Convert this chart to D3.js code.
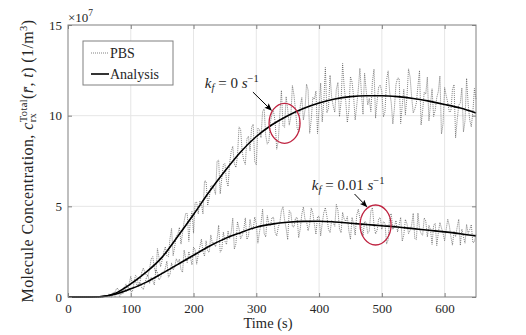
<!DOCTYPE html>
<html>
<head>
<meta charset="utf-8">
<script src="https://d3js.org/d3.v7.min.js"></script>
<style>
body { margin: 0; background: #fff; }
text { font-family: "Liberation Serif", "DejaVu Serif", serif; fill: #262626; }
</style>
</head>
<body>
<svg id="plot" width="526" height="335"></svg>
<script>
// concentrations in units of 1e7 (1/m^3)
const timeAnalysis = [0,25,50,75,100,125,150,175,200,225,250,275,300,325,350,375,400,425,450,475,500,525,550,575,600,625,650];
const analysisKf0 = [0,0,0.01,0.2,0.72,1.38,2.2,3.35,4.55,5.8,6.95,8.0,8.85,9.5,10.0,10.4,10.7,10.92,11.05,11.1,11.1,11.05,10.95,10.8,10.62,10.42,10.15];
const analysisKf001 = [0,0,0.01,0.15,0.45,0.82,1.3,1.8,2.3,2.8,3.22,3.55,3.85,4.02,4.12,4.17,4.18,4.14,4.07,4.0,3.93,3.86,3.77,3.68,3.59,3.49,3.37];

const timePBS = [0,2.5,5,7.5,10,12.5,15,17.5,20,22.5,25,27.5,30,32.5,35,37.5,40,42.5,45,47.5,50,
  52.5,55,57.5,60,62.5,65,67.5,70,72.5,75,77.5,80,82.5,85,87.5,90,92.5,95,97.5,100,
  102.5,105,107.5,110,112.5,115,117.5,120,122.5,125,127.5,130,132.5,135,137.5,140,142.5,145,147.5,150,
  152.5,155,157.5,160,162.5,165,167.5,170,172.5,175,177.5,180,182.5,185,187.5,190,192.5,195,197.5,200,
  202.5,205,207.5,210,212.5,215,217.5,220,222.5,225,227.5,230,232.5,235,237.5,240,242.5,245,247.5,250,
  252.5,255,257.5,260,262.5,265,267.5,270,272.5,275,277.5,280,282.5,285,287.5,290,292.5,295,297.5,300,
  302.5,305,307.5,310,312.5,315,317.5,320,322.5,325,327.5,330,332.5,335,337.5,340,342.5,345,347.5,350,
  352.5,355,357.5,360,362.5,365,367.5,370,372.5,375,377.5,380,382.5,385,387.5,390,392.5,395,397.5,400,
  402.5,405,407.5,410,412.5,415,417.5,420,422.5,425,427.5,430,432.5,435,437.5,440,442.5,445,447.5,450,
  452.5,455,457.5,460,462.5,465,467.5,470,472.5,475,477.5,480,482.5,485,487.5,490,492.5,495,497.5,500,
  502.5,505,507.5,510,512.5,515,517.5,520,522.5,525,527.5,530,532.5,535,537.5,540,542.5,545,547.5,550,
  552.5,555,557.5,560,562.5,565,567.5,570,572.5,575,577.5,580,582.5,585,587.5,590,592.5,595,597.5,600,
  602.5,605,607.5,610,612.5,615,617.5,620,622.5,625,627.5,630,632.5,635,637.5,640,642.5,645,647.5,650];
const pbsKf0 = [0,0,0,0,0,0,0,0,0,0,0,0,0,0,0,0,0,0,0,0,0,
  0.01,0.04,0.1,0.04,0.08,0.17,0.02,0,0.23,0.27,0.48,0.45,0.28,0.28,0.18,0.52,0.72,0.36,0.74,1.14,
  0.75,0.79,1.19,1.11,0.58,0.88,1.37,1.6,1.34,1.2,1.19,1.54,2.1,2.23,1.62,1.3,2.67,2.16,1.67,2.04,
  2.48,2.77,2.27,2.23,3.22,3.78,2.28,2.77,3.35,3.47,3.84,2.92,3.54,4.17,4.61,4.6,3.07,4.26,4.71,3.52,
  5.2,5.23,4.58,5.3,5.18,4.59,6.4,6.38,5.05,5.48,6.13,6.14,5.98,5.66,7.49,7.55,5.69,6.55,7.3,7.36,
  6.42,6.1,7.38,8.03,8.31,7.34,7.14,7.79,9.38,9.24,8.02,7.54,7.31,8.72,8.87,8.06,9.36,9.53,7.47,7.29,
  9.31,9.24,8.78,10.23,10.38,8.9,8.43,8.57,9.64,10.11,10.23,9.67,8.15,8.6,10.1,11.39,9.44,9.35,11.05,10.35,
  9.48,9.94,11.66,11.14,10.27,9.33,9.07,10.53,11.0,9.76,10.29,11.74,11.41,9.03,9.77,11.01,10.9,11.36,9.01,10.41,
  11.8,9.66,10.77,12.66,10.16,10.4,12.23,11.03,10.54,10.19,11.45,11.83,9.95,10.75,12.88,11.58,10.79,9.63,10.31,12.15,
  11.86,11.06,9.76,10.56,11.45,12.61,11.24,10.07,12.34,11.39,10.59,10.95,10.22,11.9,12.56,9.86,10.81,11.61,11.68,11.32,
  9.93,10.21,11.97,12.47,11.3,10.71,9.54,10.4,11.72,12.07,12.06,9.57,10.58,11.45,10.05,11.06,12.58,12.14,11.03,10.15,
  10.36,10.7,11.64,12.49,9.49,10.28,11.29,11.19,12.13,9.71,10.63,11.48,9.95,10.3,11.0,11.34,12.19,8.99,9.55,11.55,
  11.11,10.72,10.2,10.25,11.45,11.71,8.78,9.75,10.58,10.7,11.53,9.1,9.71,12.06,10.64,9.76,9.39,10.2,11.5,10.92];
const pbsKf001 = [0,0,0,0,0,0,0,0,0,0,0,0,0,0,0,0,0,0,0,0,0,
  0.03,0,0,0.08,0.08,0.04,0.04,0.18,0.24,0.03,0.2,0.26,0.02,0.19,0.44,0.57,0.3,0.35,0.51,0.31,
  0.28,0.74,0.88,0.62,0.7,0.77,0.52,0.41,0.75,1.07,1.21,0.75,1.09,0.91,0.66,1.51,1.37,0.94,1.07,1.37,
  1.37,1.57,1.98,1.09,1.23,1.88,1.49,1.65,2.11,1.91,2.09,1.51,1.36,2.59,2.14,1.9,2.5,2.2,1.77,2.75,
  2.6,1.81,2.33,2.76,3.19,2.5,2.25,3.1,2.52,2.47,3.42,2.95,2.99,2.77,3.19,3.96,2.47,2.61,3.58,3.08,
  2.9,3.65,3.21,3.57,4.35,2.64,2.93,4.15,3.77,3.21,3.39,3.72,4.36,3.18,3.36,4.28,3.76,3.71,4.41,4.05,
  2.97,3.57,4.06,4.84,3.5,3.31,4.49,4.03,3.93,4.38,4.39,3.56,3.37,3.86,4.11,4.76,4.98,4.26,3.79,3.16,
  4.77,4.65,3.89,3.86,4.35,4.39,3.27,3.76,4.57,4.97,4.29,4.17,3.65,4.02,4.91,4.63,4.02,3.46,4.42,4.46,
  3.37,4.05,4.65,4.93,4.44,3.72,3.55,4.23,4.11,3.9,5.11,4.78,3.76,3.54,4.67,4.3,4.17,4.44,3.63,3.18,
  4.39,4.02,3.41,4.52,4.84,4.35,3.9,3.37,4.17,4.12,3.51,3.63,4.74,4.93,3.97,3.48,3.67,4.33,4.37,3.73,
  4.16,4.08,2.92,3.15,4.49,4.6,3.72,3.87,4.22,3.59,3.97,4.39,3.08,3.43,4.28,4.04,3.49,3.67,3.97,4.62,
  3.22,3.17,4.63,3.77,3.49,3.41,4.36,4.2,3.31,3.95,3.71,2.9,3.96,4.06,2.83,3.55,4.11,3.8,3.52,3.1,
  3.73,4.29,3.94,3.32,2.86,3.61,3.33,3.85,4.29,2.85,3.74,3.32,2.97,4.0,3.5,3.72,3.99,2.99,3.05,3.48];

const xTicks = [0,100,200,300,400,500,600];
const yTicks = [0,5,10,15];

const svg = d3.select("#plot");
const width = +svg.attr("width");
const height = +svg.attr("height");
const margin = {left: 68, right: 50, top: 25, bottom: 38};

const x = d3.scaleLinear().domain([0, 650]).range([margin.left, width - margin.right]);
const y = d3.scaleLinear().domain([0, 15]).range([height - margin.bottom, margin.top]);

// grid
svg.append("g").selectAll("line")
   .data(xTicks.filter(d => d > 0))
   .join("line")
   .attr("x1", d => x(d)).attr("x2", d => x(d))
   .attr("y1", y(0)).attr("y2", y(15))
   .attr("stroke", "#e6e6e6");
svg.append("g").selectAll("line")
   .data(yTicks.filter(d => d > 0 && d < 15))
   .join("line")
   .attr("x1", x(0)).attr("x2", x(650))
   .attr("y1", d => y(d)).attr("y2", d => y(d))
   .attr("stroke", "#e6e6e6");

// lines
const line = d3.line().x(d => x(d[0])).y(d => y(d[1]));
const smooth = d3.line().x(d => x(d[0])).y(d => y(d[1])).curve(d3.curveMonotoneX);

[pbsKf0, pbsKf001].forEach(vals => {
  svg.append("path")
     .datum(timePBS.map((t, i) => [t, vals[i]]))
     .attr("d", line)
     .attr("fill", "none")
     .attr("stroke", "#4a4a4a")
     .attr("stroke-width", 0.7)
     .attr("stroke-dasharray", "1,1");
});
[analysisKf0, analysisKf001].forEach(vals => {
  svg.append("path")
     .datum(timeAnalysis.map((t, i) => [t, vals[i]]))
     .attr("d", smooth)
     .attr("fill", "none")
     .attr("stroke", "#000")
     .attr("stroke-width", 1.6);
});

// axes
const styleAxis = g => {
  g.select(".domain").remove();
  g.selectAll(".tick line").attr("stroke", "#808080");
  g.selectAll(".tick text").attr("font-size", "13px").attr("fill", "#262626")
   .style("font-family", "'Liberation Serif', serif");
};
svg.append("g").attr("transform", `translate(0,${y(0)})`)
   .call(d3.axisBottom(x).tickValues(xTicks).tickSize(-4).tickPadding(7))
   .call(styleAxis);
svg.append("g").attr("transform", `translate(${x(0)},0)`)
   .call(d3.axisLeft(y).tickValues(yTicks).tickSize(-4).tickPadding(6))
   .call(styleAxis);
svg.append("g").attr("transform", `translate(0,${y(15)})`)
   .call(d3.axisTop(x).tickValues(xTicks).tickSize(-4).tickFormat(""))
   .call(styleAxis);
svg.append("g").attr("transform", `translate(${x(650)},0)`)
   .call(d3.axisRight(y).tickValues(yTicks).tickSize(-4).tickFormat(""))
   .call(styleAxis);
svg.append("rect")
   .attr("x", x(0)).attr("y", y(15))
   .attr("width", x(650) - x(0)).attr("height", y(0) - y(15))
   .attr("fill", "none").attr("stroke", "#808080");

// exponent
const expo = svg.append("text").attr("x", x(0)).attr("y", y(15) - 3).attr("font-size", "13px");
expo.append("tspan").text("\u00d710");
expo.append("tspan").attr("font-size", "9.5px").attr("dy", -6).text("7");

// axis labels
svg.append("text")
   .attr("x", x(325) - 4).attr("y", height - 7)
   .attr("text-anchor", "middle").attr("font-size", "14.5px")
   .text("Time (s)");

const ylab = svg.append("text")
   .attr("transform", `translate(33,${(y(0) + y(15)) / 2}) rotate(-90)`)
   .attr("text-anchor", "middle").attr("font-size", "16px")
   .style("letter-spacing", "0.4px");
ylab.append("tspan").text("Molecule Concentration, ");
ylab.append("tspan").attr("font-style", "italic").text("c");
const sup = ylab.append("tspan").attr("font-size", "10.5px").attr("dy", -6).text("Total");
const supW = sup.node().getComputedTextLength();
const sub = ylab.append("tspan").attr("font-size", "10.5px").attr("dx", -supW).attr("dy", 9).text("rx");
const subW = sub.node().getComputedTextLength();
ylab.append("tspan").attr("dx", supW - subW).attr("dy", -3).text("(");
ylab.append("tspan").attr("font-style", "italic").text("r\u0304");
ylab.append("tspan").text(", ");
ylab.append("tspan").attr("font-style", "italic").text("t");
ylab.append("tspan").text(")  (1/m");
ylab.append("tspan").attr("font-size", "10.5px").attr("dy", -6).text("3");
ylab.append("tspan").attr("dy", 6).text(")");

// legend
const legend = svg.append("g");
legend.append("rect")
   .attr("x", 83).attr("y", 41).attr("width", 90).attr("height", 44)
   .attr("fill", "#fff").attr("stroke", "#808080");
const legendItems = [
  {name: "PBS", dash: "1,1", color: "#4a4a4a", w: 0.7},
  {name: "Analysis", dash: null, color: "#000", w: 1.6}
];
legendItems.forEach((d, i) => {
  const yy = 53 + i * 21;
  legend.append("line")
     .attr("x1", 91).attr("x2", 109).attr("y1", yy).attr("y2", yy)
     .attr("stroke", d.color).attr("stroke-width", d.w)
     .attr("stroke-dasharray", d.dash);
  legend.append("text")
     .attr("x", 110).attr("y", yy + 4.5).attr("font-size", "14px")
     .attr("fill", "#000").text(d.name);
});

// annotations
svg.append("defs").append("marker")
   .attr("id", "arrow").attr("viewBox", "0 -4 10 8")
   .attr("refX", 9).attr("refY", 0)
   .attr("markerWidth", 8).attr("markerHeight", 6)
   .attr("markerUnits", "userSpaceOnUse")
   .attr("orient", "auto")
   .append("path").attr("d", "M0,-4L10,0L0,4L2,0Z").attr("fill", "#000");

const notes = [
  {label: "0", tx: 218, ty: 11.53, a0: [294.6, 11.3], a1: [324, 10.3], c: [345, 9.58]},
  {label: "0.01", tx: 388.5, ty: 5.9, a0: [456.5, 5.68], a1: [476, 4.98], c: [490, 3.97]}
];
notes.forEach(n => {
  const t = svg.append("text").attr("x", x(n.tx)).attr("y", y(n.ty))
     .attr("font-size", "15px").attr("fill", "#000");
  t.append("tspan").attr("font-style", "italic").text("k");
  t.append("tspan").attr("font-style", "italic").attr("font-size", "10.5px").attr("dy", 3).text("f");
  t.append("tspan").attr("dy", -3).text(" = " + n.label + " ");
  t.append("tspan").attr("font-style", "italic").text("s");
  t.append("tspan").attr("font-size", "10.5px").attr("dy", -6).text("\u22121");
  svg.append("line")
     .attr("x1", x(n.a0[0])).attr("y1", y(n.a0[1]))
     .attr("x2", x(n.a1[0])).attr("y2", y(n.a1[1]))
     .attr("stroke", "#000").attr("stroke-width", 1)
     .attr("marker-end", "url(#arrow)");
  svg.append("ellipse")
     .attr("cx", x(n.c[0])).attr("cy", y(n.c[1]))
     .attr("rx", 15.5).attr("ry", 20)
     .attr("fill", "none").attr("stroke", "#bf2340").attr("stroke-width", 1.3);
});
</script>
</body>
</html>
